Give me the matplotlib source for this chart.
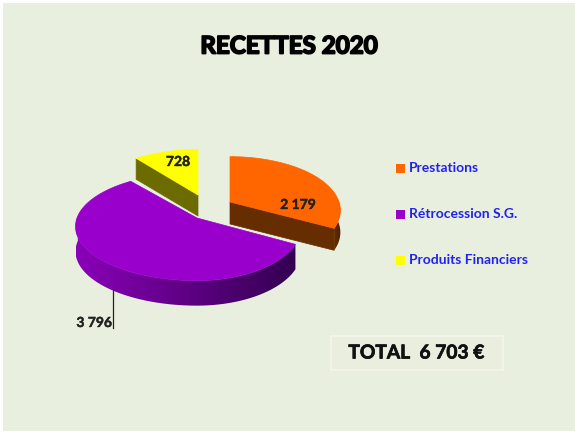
#!/usr/bin/env python3
"""Exploded 3D-look pie of the 2020 receipts, projected by hand onto a pixel axes."""

import numpy as np
import matplotlib
matplotlib.use("Agg")
import matplotlib.pyplot as plt
import matplotlib.patheffects as pe
from matplotlib.colors import LinearSegmentedColormap
from matplotlib.patches import Polygon, Rectangle

categories = ["Prestations", "Rétrocession S.G.", "Produits Financiers"]
values = [2179, 3796, 728]
value_labels = ["2 179", "3 796", "728"]
title = "RECETTES 2020"
total_label = "TOTAL  6 703 €"

W, H = 575, 432
BG = "#E9EFDF"
TOP_COLORS = ["#FF6600", "#9900CC", "#FFFF00"]
SIDE_LIGHT = ["#662D00", "#8A00B8", "#6B6B00"]
SIDE_DARK = ["#4A2000", "#330050", "#6B6B00"]
# where each slice's tip ends up after the explosion, in pixels
APEX = [(230, 202), (197, 218), (198, 195)]
# horizontal radius on the left and right of the tip, the picture is not symmetric
RADII = [(110, 109), (120, 103), (112, 112)]
RY, PERSP = 54, 0.16
DEPTH = [22, 25, 21]

plt.rcParams["font.family"] = ["Lato", "DejaVu Sans"]


def project(i, ang):
    """Angle is clockwise from 12 o'clock; far side shrinks a little."""
    u, v = np.sin(ang), np.cos(ang)
    s = 1 - PERSP * v
    rx = np.where(u < 0, RADII[i][0], RADII[i][1])
    return APEX[i][0] + rx * u * s, APEX[i][1] - RY * v * s


def draw_slice(ax, i, a0, a1):
    apex, d = APEX[i], DEPTH[i]
    ang = np.linspace(a0, a1, 160)
    xs, ys = project(i, ang)

    # outer wall, only the part that faces the viewer, shaded left to right
    front = np.cos(ang) < 0.05
    if front.any():
        fx, fy = xs[front], ys[front]
        wall = np.vstack([np.column_stack([fx, fy]),
                          np.column_stack([fx, fy + d])[::-1]])
        poly = Polygon(wall, closed=True, fc="none", ec="none", zorder=2 + i)
        ax.add_patch(poly)
        cmap = LinearSegmentedColormap.from_list("wall", [SIDE_LIGHT[i], SIDE_DARK[i]])
        img = ax.imshow(np.linspace(0, 1, 256).reshape(1, -1), cmap=cmap, aspect="auto",
                        extent=(fx.min(), fx.max(), fy.max() + d, fy.min()),
                        zorder=2 + i)
        img.set_clip_path(poly)

    # cut faces seen from the front
    if i == 0:
        end = (xs[-1], ys[-1])
    elif i == 2:
        end = (xs[0], ys[0])
    else:
        end = None
    if end is not None:
        quad = [apex, end, (end[0], end[1] + d), (apex[0], apex[1] + d)]
        ax.add_patch(Polygon(quad, closed=True, fc=SIDE_LIGHT[i], ec=SIDE_LIGHT[i],
                             lw=0.5, zorder=3 + i))

    top = np.vstack([[apex], np.column_stack([xs, ys])])
    ax.add_patch(Polygon(top, closed=True, fc=TOP_COLORS[i], ec=TOP_COLORS[i],
                         lw=0.5, zorder=4 + i))


def main():
    fig = plt.figure(figsize=(W / 100, H / 100), dpi=100, facecolor="white")
    ax = fig.add_axes([0, 0, 1, 1])
    ax.add_patch(Rectangle((3, 3), W - 3, H - 4, fc=BG, ec="none", zorder=0))

    shares = np.array(values) / sum(values) * 2 * np.pi
    edges = np.concatenate([[0], np.cumsum(shares)])
    for i in range(len(values)):
        draw_slice(ax, i, edges[i], edges[i + 1])

    ax.set_xlim(0, W)
    ax.set_ylim(H, 0)
    ax.axis("off")

    ax.text(289, 46, title, ha="center", va="center", fontsize=17.4, fontweight="bold",
            color="black", path_effects=[pe.withStroke(linewidth=1.3, foreground="black")])

    # value labels
    thick = [pe.withStroke(linewidth=0.3, foreground="#222222")]
    bold = dict(fontsize=10, fontweight="bold", color="#222222", va="center", zorder=10,
                path_effects=thick)
    ax.text(298, 205, value_labels[0], ha="center", **bold)
    ax.text(112, 323, value_labels[1], ha="right", **bold)
    ax.text(178, 162, value_labels[2], ha="center", **bold)
    ax.plot([113, 113], [289, 328], color="#222222", lw=0.9, zorder=1)

    # legend
    for i, (name, y) in enumerate(zip(categories, [168, 214, 260])):
        ax.add_patch(Rectangle((396, y - 4), 8.5, 8.5, fc=TOP_COLORS[i], ec="none"))
        ax.text(409, y, name, ha="left", va="center", fontsize=10, fontweight="bold",
                color="#2222EE")

    # total box
    ax.add_patch(Rectangle((331, 336), 172, 34, fc="#EAEEDF", ec="#F6F6EA", lw=1.2, zorder=1))
    ax.text(416, 353, total_label, ha="center", va="center", fontsize=13.8, fontweight="bold",
            color="#111111", path_effects=[pe.withStroke(linewidth=0.5, foreground="#111111")])

    fig.savefig("out.png", dpi=100, facecolor="white")


if __name__ == "__main__":
    main()
